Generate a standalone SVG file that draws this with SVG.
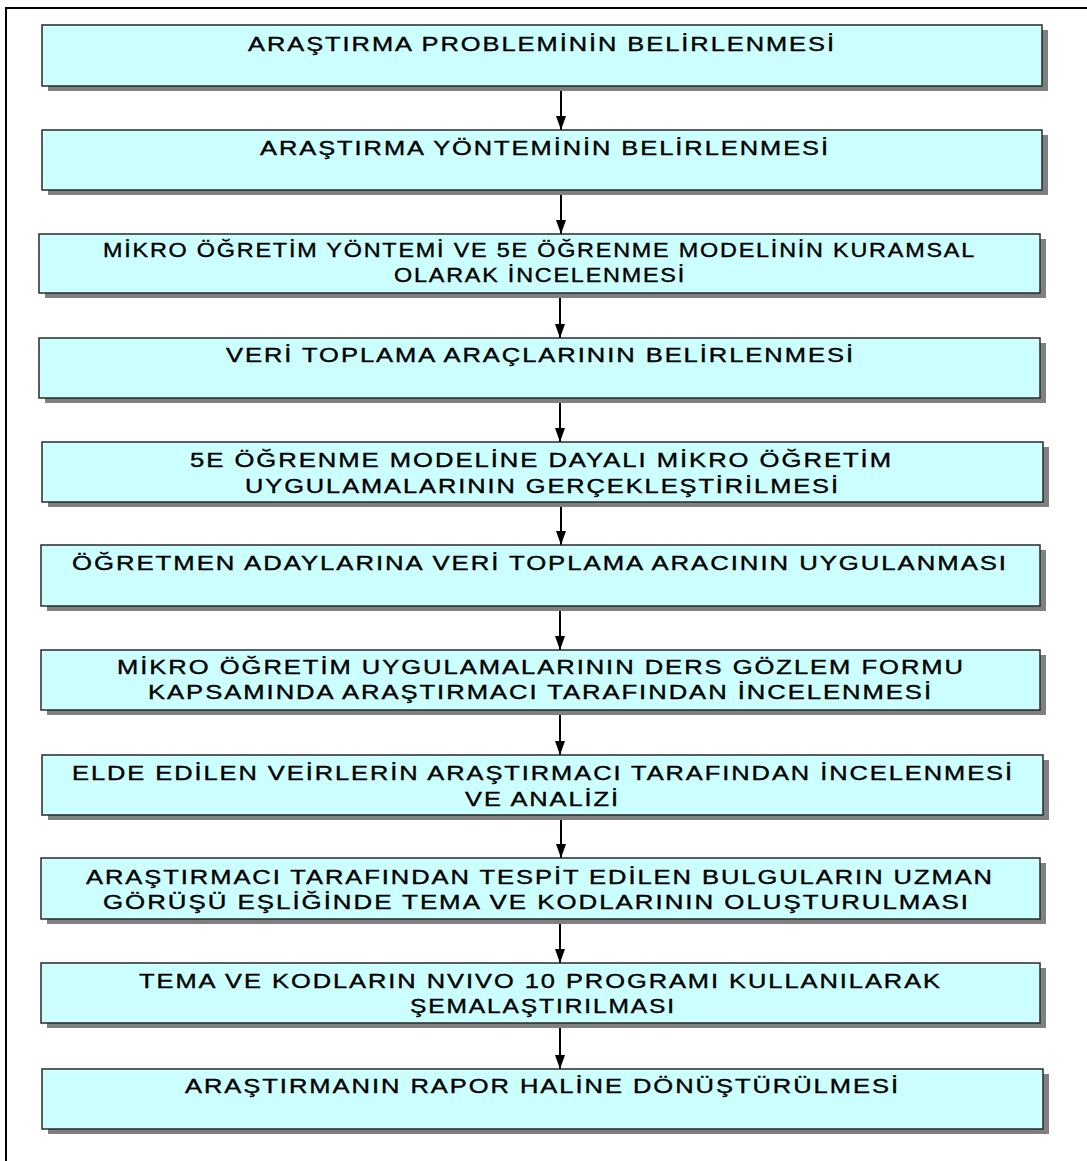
<svg xmlns="http://www.w3.org/2000/svg" width="1087" height="1161" viewBox="0 0 1087 1161">
  <style>
    .box { fill: #CCFFFF; stroke: #2a2a2a; stroke-width: 1.5; }
    .shadow { fill: #808080; }
    .lbl { font-family: "Liberation Sans", Arial, sans-serif; font-size: 19.5px; letter-spacing: 1.5px; fill: #000; stroke: #000; stroke-width: 0.35; }
    .conn { stroke: #000; stroke-width: 2; fill: none; }
  </style>
  <defs>
    <marker id="arrow" viewBox="0 0 14 10" refX="14" refY="5" markerWidth="14" markerHeight="10" markerUnits="userSpaceOnUse" orient="auto">
      <path d="M0,0 L14,5 L0,10 Z" fill="#000"/>
    </marker>
  </defs>

  <rect width="1087" height="1161" fill="#fff"/>
  <!-- page frame (left and top edges) -->
  <path d="M6,1161 V8 H1087" fill="none" stroke="#000" stroke-width="2"/>

  <g id="connectors">
    <line class="conn" x1="561" y1="86" x2="561" y2="130" marker-end="url(#arrow)"/>
    <line class="conn" x1="561" y1="190" x2="561" y2="234" marker-end="url(#arrow)"/>
    <line class="conn" x1="560" y1="293" x2="560" y2="338" marker-end="url(#arrow)"/>
    <line class="conn" x1="560" y1="398" x2="560" y2="442" marker-end="url(#arrow)"/>
    <line class="conn" x1="561" y1="502" x2="561" y2="545" marker-end="url(#arrow)"/>
    <line class="conn" x1="560" y1="606" x2="560" y2="650" marker-end="url(#arrow)"/>
    <line class="conn" x1="560" y1="710" x2="560" y2="755" marker-end="url(#arrow)"/>
    <line class="conn" x1="561" y1="815" x2="561" y2="858" marker-end="url(#arrow)"/>
    <line class="conn" x1="560" y1="919" x2="560" y2="963" marker-end="url(#arrow)"/>
    <line class="conn" x1="560" y1="1023" x2="560" y2="1069" marker-end="url(#arrow)"/>
  </g>

  <g id="n1">
    <rect class="shadow" x="48" y="30" width="1000" height="61"/>
    <rect class="box" x="42" y="25" width="1000" height="61"/>
    <text class="lbl" x="248" y="51" textLength="588" lengthAdjust="spacingAndGlyphs">ARAŞTIRMA PROBLEMİNİN BELİRLENMESİ</text>
  </g>
  <g id="n2">
    <rect class="shadow" x="48" y="135" width="1000" height="60"/>
    <rect class="box" x="42" y="130" width="1000" height="60"/>
    <text class="lbl" x="260" y="155" textLength="570" lengthAdjust="spacingAndGlyphs">ARAŞTIRMA YÖNTEMİNİN BELİRLENMESİ</text>
  </g>
  <g id="n3">
    <rect class="shadow" x="45" y="239" width="1001" height="59"/>
    <rect class="box" x="39" y="234" width="1001" height="59"/>
    <text class="lbl" x="103" y="257" textLength="873" lengthAdjust="spacingAndGlyphs">MİKRO ÖĞRETİM YÖNTEMİ VE 5E ÖĞRENME MODELİNİN KURAMSAL</text>
    <text class="lbl" x="394" y="282" textLength="292" lengthAdjust="spacingAndGlyphs">OLARAK İNCELENMESİ</text>
  </g>
  <g id="n4">
    <rect class="shadow" x="45" y="343" width="1001" height="60"/>
    <rect class="box" x="39" y="338" width="1001" height="60"/>
    <text class="lbl" x="226" y="362" textLength="629" lengthAdjust="spacingAndGlyphs">VERİ TOPLAMA ARAÇLARININ BELİRLENMESİ</text>
  </g>
  <g id="n5">
    <rect class="shadow" x="48" y="447" width="1001" height="60"/>
    <rect class="box" x="42" y="442" width="1001" height="60"/>
    <text class="lbl" x="190" y="467" textLength="703" lengthAdjust="spacingAndGlyphs">5E ÖĞRENME MODELİNE DAYALI MİKRO ÖĞRETİM</text>
    <text class="lbl" x="245" y="493" textLength="595" lengthAdjust="spacingAndGlyphs">UYGULAMALARININ GERÇEKLEŞTİRİLMESİ</text>
  </g>
  <g id="n6">
    <rect class="shadow" x="47" y="550" width="999" height="61"/>
    <rect class="box" x="41" y="545" width="999" height="61"/>
    <text class="lbl" x="72" y="570" textLength="936" lengthAdjust="spacingAndGlyphs">ÖĞRETMEN ADAYLARINA VERİ TOPLAMA ARACININ UYGULANMASI</text>
  </g>
  <g id="n7">
    <rect class="shadow" x="47" y="655" width="999" height="60"/>
    <rect class="box" x="41" y="650" width="999" height="60"/>
    <text class="lbl" x="117" y="674" textLength="848" lengthAdjust="spacingAndGlyphs">MİKRO ÖĞRETİM UYGULAMALARININ DERS GÖZLEM FORMU</text>
    <text class="lbl" x="148" y="699" textLength="785" lengthAdjust="spacingAndGlyphs">KAPSAMINDA ARAŞTIRMACI TARAFINDAN İNCELENMESİ</text>
  </g>
  <g id="n8">
    <rect class="shadow" x="48" y="760" width="1001" height="60"/>
    <rect class="box" x="42" y="755" width="1001" height="60"/>
    <text class="lbl" x="72" y="780" textLength="942" lengthAdjust="spacingAndGlyphs">ELDE EDİLEN VEİRLERİN ARAŞTIRMACI TARAFINDAN İNCELENMESİ</text>
    <text class="lbl" x="465" y="806" textLength="155" lengthAdjust="spacingAndGlyphs">VE ANALİZİ</text>
  </g>
  <g id="n9">
    <rect class="shadow" x="47" y="863" width="999" height="61"/>
    <rect class="box" x="41" y="858" width="999" height="61"/>
    <text class="lbl" x="86" y="884" textLength="908" lengthAdjust="spacingAndGlyphs">ARAŞTIRMACI TARAFINDAN TESPİT EDİLEN BULGULARIN UZMAN</text>
    <text class="lbl" x="103" y="909" textLength="867" lengthAdjust="spacingAndGlyphs">GÖRÜŞÜ EŞLİĞİNDE TEMA VE KODLARININ OLUŞTURULMASI</text>
  </g>
  <g id="n10">
    <rect class="shadow" x="47" y="968" width="999" height="60"/>
    <rect class="box" x="41" y="963" width="999" height="60"/>
    <text class="lbl" x="139" y="988" textLength="803" lengthAdjust="spacingAndGlyphs">TEMA VE KODLARIN NVIVO 10 PROGRAMI KULLANILARAK</text>
    <text class="lbl" x="410" y="1013" textLength="266" lengthAdjust="spacingAndGlyphs">ŞEMALAŞTIRILMASI</text>
  </g>
  <g id="n11">
    <rect class="shadow" x="48" y="1074" width="1001" height="60"/>
    <rect class="box" x="42" y="1069" width="1001" height="60"/>
    <text class="lbl" x="185" y="1093" textLength="715" lengthAdjust="spacingAndGlyphs">ARAŞTIRMANIN RAPOR HALİNE DÖNÜŞTÜRÜLMESİ</text>
  </g>
</svg>
